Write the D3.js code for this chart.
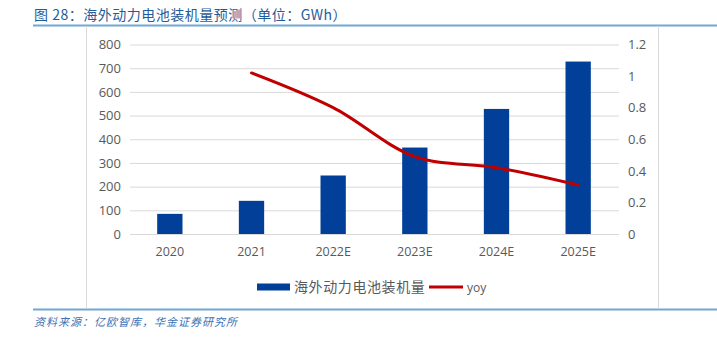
<!DOCTYPE html>
<html><head><meta charset="utf-8">
<script src="https://cdn.jsdelivr.net/npm/d3@7"></script>
<style>body{margin:0;background:#fff;}svg{display:block;}</style>
</head><body>
<svg id="c" width="717" height="337"></svg>
<script>
const categories = ["2020","2021","2022E","2023E","2024E","2025E"];
const installed = [85, 140, 247, 365, 528, 728];
const yoy = [null, 1.02, 0.80, 0.49, 0.42, 0.31];
const leftTicks = [0,100,200,300,400,500,600,700,800];
const rightTicks = [0,0.2,0.4,0.6,0.8,1,1.2];

const svg = d3.select("#c");
const font = "'Noto Sans CJK SC','Open Sans',sans-serif";
const numFont = "'Open Sans','Liberation Sans',sans-serif";

// Frame
svg.append("text").attr("x",34).attr("y",20).attr("fill","#1f5c99").attr("letter-spacing",0.5)
  .attr("font-family",font).attr("font-size",14).text("图 28：海外动力电池装机量预测（单位：GWh）");
svg.append("line").attr("x1",33).attr("x2",717).attr("y1",25.5).attr("y2",25.5).attr("stroke","#6fa8d6").attr("stroke-width",2);
svg.append("line").attr("x1",33).attr("x2",717).attr("y1",309.5).attr("y2",309.5).attr("stroke","#6fa8d6").attr("stroke-width",2);
svg.append("line").attr("x1",86.5).attr("x2",86.5).attr("y1",26).attr("y2",309).attr("stroke","#d9d9d9");
svg.append("line").attr("x1",658.5).attr("x2",658.5).attr("y1",26).attr("y2",309).attr("stroke","#d9d9d9");
svg.append("text").attr("x",34).attr("y",326).attr("fill","#3a72b5").attr("font-style","italic").attr("letter-spacing",1)
  .attr("font-family",font).attr("font-size",11).text("资料来源：亿欧智库，华金证券研究所");

const x = d3.scaleBand().domain(categories).range([129,619]).paddingInner(0.69).paddingOuter(0.345);
const yL = d3.scaleLinear().domain([0,800]).range([234,44.5]);
const yR = d3.scaleLinear().domain([0,1.2]).range([234,44.5]);

// gridlines
const grid = d3.axisLeft(yL).tickValues(leftTicks).tickSize(-(619-130)).tickFormat("");
const g = svg.append("g").attr("transform","translate(130,0)").call(grid);
g.select(".domain").remove();
g.selectAll("line").attr("stroke","#d9d9d9");

const aL = svg.append("g").attr("transform","translate(130,0)").call(d3.axisLeft(yL).tickValues(leftTicks).tickSize(0).tickPadding(9));
aL.select(".domain").remove();
aL.selectAll("text").attr("fill","#595959").attr("font-family",numFont).attr("font-size",13);

const aR = svg.append("g").attr("transform","translate(619,0)").call(d3.axisRight(yR).tickValues(rightTicks).tickSize(0).tickPadding(9).tickFormat(d=>String(d)));
aR.select(".domain").remove();
aR.selectAll("text").attr("fill","#595959").attr("font-family",numFont).attr("font-size",13);

const aX = svg.append("g").attr("transform","translate(0,234)").call(d3.axisBottom(x).tickSize(0).tickPadding(13));
aX.select(".domain").remove();
aX.selectAll("text").attr("fill","#595959").attr("font-family",numFont).attr("font-size",12.5);

svg.append("g").selectAll("rect").data(categories).join("rect")
  .attr("x",d=>x(d)).attr("width",x.bandwidth())
  .attr("y",(d,i)=>yL(installed[i])).attr("height",(d,i)=>yL(0)-yL(installed[i]))
  .attr("fill","#023f99");

const pts = categories.map((c,i)=>[c,yoy[i]]).filter(p=>p[1]!=null);
svg.append("path").datum(pts)
  .attr("d",d3.line().x(p=>x(p[0])+x.bandwidth()/2).y(p=>yR(p[1])).curve(d3.curveCatmullRom.alpha(0.5)))
  .attr("fill","none").attr("stroke","#c00000").attr("stroke-width",3).attr("stroke-linecap","round");

// legend
svg.append("rect").attr("x",257).attr("y",283.5).attr("width",33).attr("height",7).attr("fill","#023f99");
svg.append("text").attr("x",294).attr("y",292).attr("fill","#595959").attr("letter-spacing",0.6).attr("font-family",font).attr("font-size",14).text("海外动力电池装机量");
svg.append("line").attr("x1",429).attr("x2",463).attr("y1",287).attr("y2",287).attr("stroke","#c00000").attr("stroke-width",3);
svg.append("text").attr("x",467).attr("y",292).attr("fill","#595959").attr("font-family",numFont).attr("font-size",12).text("yoy");
</script>
</body></html>
